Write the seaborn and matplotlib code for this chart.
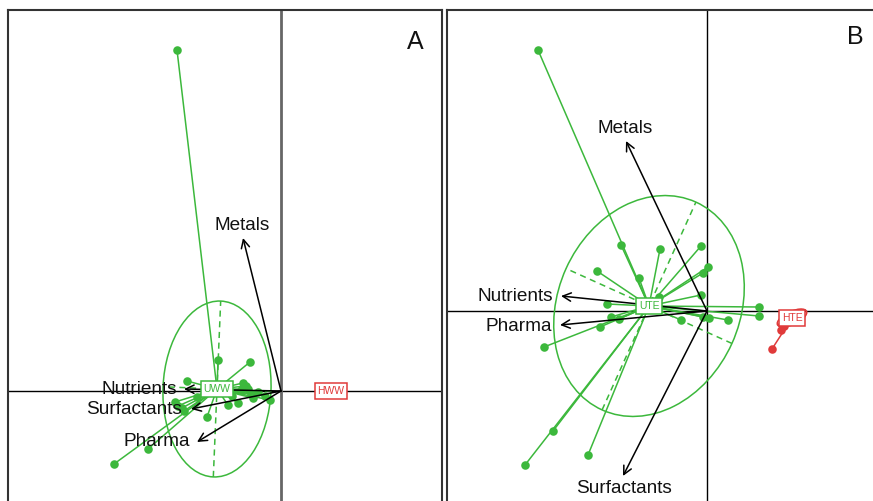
import numpy as np
import pandas as pd
import matplotlib
matplotlib.use("Agg")
import matplotlib.pyplot as plt
from matplotlib.patches import Ellipse
import seaborn as sns

# ---------------- data ----------------
# Panel A (untreated / hospital wastewater)
uww_x = [-1.04, -0.63, -0.31, -0.94, -1.06, -1.03, -0.74, -1.67, -1.33, -0.38,
         -0.35, -0.23, -0.28, -0.11, -0.53, -0.43, -0.84, -0.40, -0.49, -0.16,
         -0.99, -0.97, -0.33, -0.30]
uww_y = [3.41, 0.31, 0.29, 0.10, -0.11, -0.15, -0.26, -0.73, -0.58, 0.08,
         0.05, -0.01, -0.07, -0.09, -0.14, -0.12, -0.06, 0.01, -0.05, -0.05,
         -0.17, -0.20, 0.02, -0.03]
uww_centroid = (-0.64, 0.02)
uww_ellipse = (0.88, 0.54, 87.6)   # semi-major, semi-minor, angle
hww_x = [0.50]
hww_y = [0.00]
hww_centroid = (0.50, 0.00)

vars_A = ["Metals", "Nutrients", "Surfactants", "Pharma"]
arrows_A_x = [-0.38, -0.97, -0.90, -0.84]
arrows_A_y = [1.53, 0.02, -0.18, -0.51]
labels_A_x = [-0.39, -1.04, -0.99, -0.91]
labels_A_y = [1.65, 0.01, -0.19, -0.51]

# Panel B (treated effluents)
ute_x = [-1.69, -0.86, -0.47, -0.06, -1.10, -0.68, 0.01, -0.04, -0.06, -1.00,
         0.52, 0.52, -0.96, -0.88, -1.07, -1.63, -0.26, 0.02, 0.21, -0.04,
         -0.48, -1.54, -1.82, -1.19]
ute_y = [2.61, 0.66, 0.62, 0.65, 0.40, 0.33, 0.44, 0.38, 0.16, 0.07,
         0.04, -0.05, -0.06, -0.08, -0.16, -0.36, -0.09, -0.07, -0.09, -0.06,
         0.14, -1.20, -1.54, -1.44]
ute_centroid = (-0.58, 0.05)
ute_ellipse = (1.14, 0.91, 65.7)
hte_x = [0.65, 0.74, 0.77, 0.88, 0.84]
hte_y = [-0.38, -0.19, -0.15, -0.04, -0.08]
hte_centroid = (0.85, -0.07)
hte_ellipse = (0.16, 0.065, 25.0)

vars_B = ["Metals", "Nutrients", "Pharma", "Surfactants"]
arrows_B_x = [-0.81, -1.46, -1.47, -0.84]
arrows_B_y = [1.70, 0.15, -0.14, -1.65]
labels_B_x = [-0.82, -1.54, -1.55, -0.83]
labels_B_y = [1.82, 0.14, -0.16, -1.78]

# ---------------- style ----------------
sns.set_theme(style="white")
plt.rcParams["font.family"] = ["Liberation Sans", "DejaVu Sans"]

GREEN = "#3cb83c"
RED = "#e03a3a"
TXT = "#111111"

fig = plt.figure(figsize=(8.73, 5.01), dpi=100)
W, H = 873.0, 501.0
axA = fig.add_axes([8 / W, 1 - 520 / H, 434 / W, 510 / H])
axB = fig.add_axes([447 / W, 1 - 520 / H, 443 / W, 510 / H])

axA.set_xlim(-2.73, 1.61)
axA.set_ylim(-1.29, 3.81)
axB.set_xlim(-2.60, 1.83)
axB.set_ylim(-2.09, 3.01)


def draw_group(ax, xs, ys, cen, color, ell=None):
    for x, y in zip(xs, ys):
        ax.plot([cen[0], x], [cen[1], y], color=color, lw=1.1, zorder=2)
    df = pd.DataFrame({"x": xs, "y": ys})
    sns.scatterplot(data=df, x="x", y="y", ax=ax, color=color, s=38,
                    edgecolor=color, linewidth=0, zorder=3, legend=False)
    if ell is not None:
        a, b, ang = ell
        ax.add_patch(Ellipse(cen, 2 * a, 2 * b, angle=ang, fill=False,
                             ec=color, lw=1.1, zorder=2))
        t = np.deg2rad(ang)
        ax.plot([cen[0] - a * np.cos(t), cen[0] + a * np.cos(t)],
                [cen[1] - a * np.sin(t), cen[1] + a * np.sin(t)],
                color=color, lw=1.1, ls=(0, (4, 3)), zorder=2)
        ax.plot([cen[0] + b * np.sin(t), cen[0] - b * np.sin(t)],
                [cen[1] - b * np.cos(t), cen[1] + b * np.cos(t)],
                color=color, lw=1.1, ls=(0, (4, 3)), zorder=2)


def label_box(ax, cen, text, color):
    ax.text(cen[0], cen[1], text, color=color, fontsize=7.5, ha="center",
            va="center", zorder=6,
            bbox=dict(boxstyle="square,pad=0.25", fc="white", ec=color, lw=1.1))


def draw_arrows(ax, names, ax_x, ax_y, lx, ly):
    for n, x, y, tx, ty in zip(names, ax_x, ax_y, lx, ly):
        ax.annotate("", xy=(x, y), xytext=(0, 0),
                    arrowprops=dict(arrowstyle="->", color="black", lw=1.1,
                                    mutation_scale=15, shrinkA=0, shrinkB=0),
                    zorder=5)
        if n in ("Metals", "Surfactants") and abs(tx - x) < 0.05:
            ax.text(tx, ty, n, fontsize=13.7, color=TXT, ha="center",
                    va="center", zorder=5)
        else:
            ax.text(tx, ty, n, fontsize=13.7, color=TXT, ha="right",
                    va="center", zorder=5)


# Panel A
axA.axhline(0, color="black", lw=1.0, zorder=1)
axA.axvline(0, color="#666666", lw=2.0, zorder=1)
draw_group(axA, uww_x, uww_y, uww_centroid, GREEN, uww_ellipse)
draw_group(axA, hww_x, hww_y, hww_centroid, RED)
draw_arrows(axA, vars_A, arrows_A_x, arrows_A_y, labels_A_x, labels_A_y)
label_box(axA, uww_centroid, "UWW", GREEN)
label_box(axA, hww_centroid, "HWW", RED)
axA.text(0.938, 0.937, "A", transform=axA.transAxes, fontsize=18,
         ha="center", va="center", color=TXT)

# Panel B
axB.axhline(0, color="black", lw=1.0, zorder=1)
axB.axvline(0, color="black", lw=1.0, zorder=1)
draw_group(axB, ute_x, ute_y, ute_centroid, GREEN, ute_ellipse)
draw_group(axB, hte_x, hte_y, hte_centroid, RED, hte_ellipse)
draw_arrows(axB, vars_B, arrows_B_x, arrows_B_y, labels_B_x, labels_B_y)
label_box(axB, ute_centroid, "UTE", GREEN)
label_box(axB, hte_centroid, "HTE", RED)
axB.text(0.921, 0.947, "B", transform=axB.transAxes, fontsize=18,
         ha="center", va="center", color=TXT)

for ax in (axA, axB):
    ax.set_xticks([])
    ax.set_yticks([])
    ax.set_xlabel("")
    ax.set_ylabel("")
    for sp in ax.spines.values():
        sp.set_color("#333333")
        sp.set_linewidth(1.5)
        sp.set_visible(True)

fig.savefig("out.png", dpi=100, facecolor="white")
